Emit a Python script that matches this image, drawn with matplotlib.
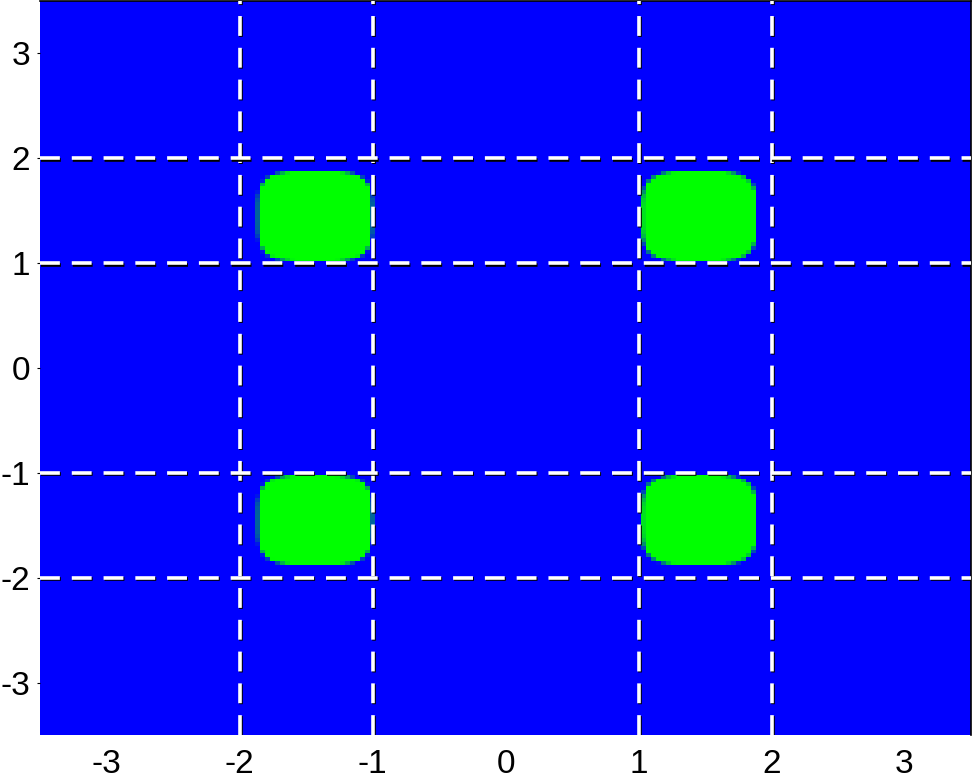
import matplotlib
matplotlib.use("Agg")
import matplotlib.pyplot as plt
import matplotlib.patheffects as pe
from matplotlib.colors import LinearSegmentedColormap
import numpy as np

# blob centres / sizes
blob_cx = [-1.43, 1.455]
blob_cy = [-1.45, 1.45]
half_w = 0.43
half_h = 0.43
power = 4.0

line_x = [-2, -1, 1, 2]
line_y = [-2, -1, 1, 2]
ticks = [-3, -2, -1, 0, 1, 2, 3]
lim = 3.5
ncell = 186

plt.rcParams['font.family'] = ['Liberation Sans', 'DejaVu Sans']

# field on a coarse grid, soft edge so the border pixels blend
xs = np.linspace(-lim, lim, ncell + 1)
xc = 0.5 * (xs[1:] + xs[:-1])
X, Y = np.meshgrid(xc, xc)
field = np.zeros_like(X)
for cx in blob_cx:
    for cy in blob_cy:
        r = (np.abs((X - cx) / half_w) ** power + np.abs((Y - cy) / half_h) ** power) ** (1 / power)
        field = np.maximum(field, np.clip((1 - r) / 0.06 + 0.5, 0, 1))

cmap = LinearSegmentedColormap.from_list('bg', [(0, 0, 1), (0, 1, 0)])

fig = plt.figure(figsize=(9.73, 7.78), dpi=100)
ax = fig.add_axes([40 / 973, 43 / 778, 931 / 973, 734 / 778])
ax.imshow(field, cmap=cmap, vmin=0, vmax=1, origin='lower', extent=[-lim, lim, -lim, lim],
          aspect='auto', interpolation='nearest', zorder=1)

shadow = [pe.SimpleLineShadow(offset=(1.0, -1.0), shadow_color='k', alpha=1.0), pe.Normal()]
for x in line_x:
    l = ax.axvline(x, color='white', lw=2.6, zorder=3, path_effects=shadow)
    l.set_dashes((5.5, 3.3))
for y in line_y:
    l = ax.axhline(y, color='white', lw=2.6, zorder=3, path_effects=shadow)
    l.set_dashes((5.5, 3.3))

ax.set_xlim(-lim, lim)
ax.set_ylim(-lim, lim)
ax.set_xticks(ticks)
ax.set_yticks(ticks)
ax.set_xticklabels([str(t) for t in ticks])
ax.set_yticklabels([str(t) for t in ticks])
ax.tick_params(axis='x', labelsize=24, length=0, pad=10)
ax.tick_params(axis='y', labelsize=24, length=2, pad=5)
ax.spines['left'].set_visible(False)
ax.spines['bottom'].set_visible(False)
ax.spines['top'].set_linewidth(1.2)
ax.spines['right'].set_linewidth(1.2)

fig.savefig('out.png', dpi=100)
